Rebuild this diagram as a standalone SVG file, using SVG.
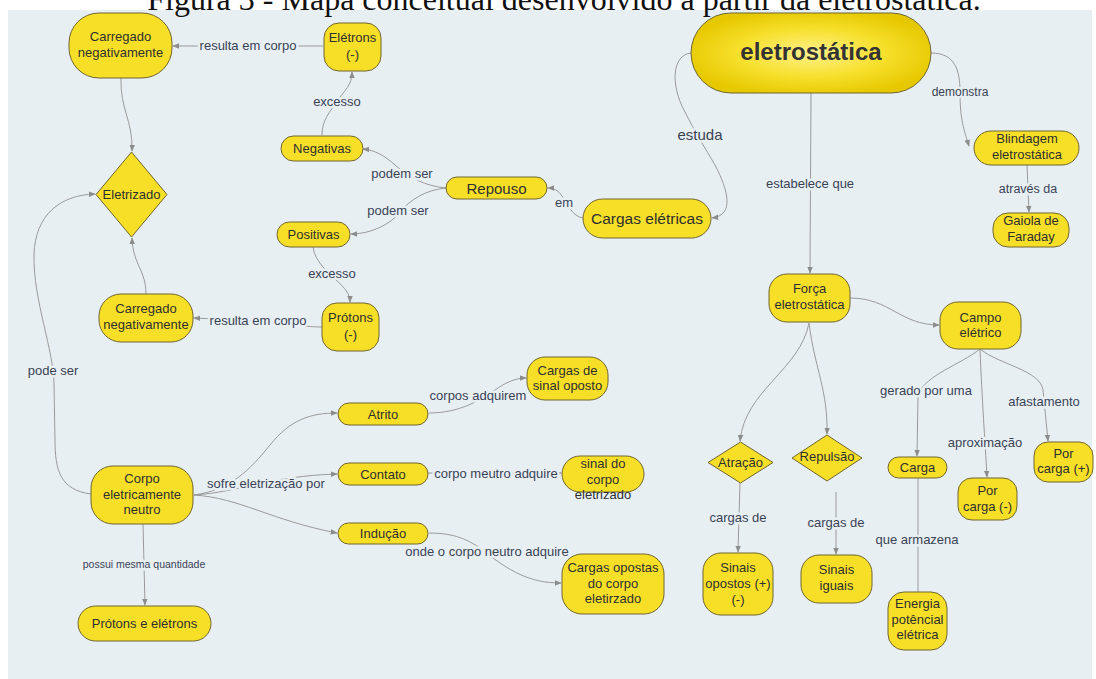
<svg xmlns="http://www.w3.org/2000/svg" width="1096" height="679" viewBox="0 0 1096 679">
<defs>
<style>
.node{fill:#f8df27;stroke:#6f6630;stroke-width:1}
.nt{font-family:"Liberation Sans",Arial,sans-serif;font-size:13px;fill:#2f2f2f;text-anchor:middle}
.edge{fill:none;stroke:#9a9a9a;stroke-width:1;marker-end:url(#arr)}
.plain{fill:none;stroke:#9a9a9a;stroke-width:1}
.lbl{font-family:"Liberation Sans",Arial,sans-serif;font-size:13px;fill:#3a4356;text-anchor:middle;paint-order:stroke;stroke:#e8eff3;stroke-width:5px;stroke-linejoin:round}
</style>
<marker id="arr" markerUnits="userSpaceOnUse" markerWidth="7" markerHeight="7" viewBox="0 0 10 10" refX="9" refY="5" orient="auto">
<path d="M0,1 L10,5 L0,9 z" fill="#8c8c8c"/>
</marker>
<radialGradient id="gold" cx="50%" cy="50%" r="55%">
<stop offset="0" stop-color="#fdf08c"/>
<stop offset="0.55" stop-color="#f7e02c"/>
<stop offset="1" stop-color="#e6c800"/>
</radialGradient>
</defs>
<rect x="0" y="0" width="1096" height="679" fill="#ffffff"/>
<rect x="8" y="10" width="1084" height="669" fill="#e8eff3"/>
<text x="564" y="10" font-family="'Liberation Serif','Times New Roman',serif" font-size="32" text-anchor="middle" fill="#111">Figura 3 - Mapa conceitual desenvolvido a partir da eletrostática.</text>

<g id="connectors">
<path class="edge" d="M323,46 L173,46"/>
<path class="edge" d="M322,135 C322,120 330,112 337,101 C345,90 352,85 352,72"/>
<path class="edge" d="M446,188 C425,186 410,178 395,165 C385,156 375,150 363,149"/>
<path class="edge" d="M446,188 C425,190 410,200 400,212 C390,225 370,234 351,234"/>
<path class="edge" d="M583,218 C572,216 568,205 562,196 C558,190 553,188 548,188"/>
<path class="edge" d="M691,53 C672,55 670,85 685,112 C695,132 705,148 715,165 C728,190 735,215 712,218"/>
<path class="edge" d="M313,247 C315,262 328,272 336,280 C345,288 350,294 350,302"/>
<path class="edge" d="M322,327 C300,327 290,322 260,321 L194,318"/>
<path class="edge" d="M121,78 C120,110 133,120 132,151"/>
<path class="edge" d="M146,294 C146,270 133,265 132,238"/>
<path class="edge" d="M91,494 C60,490 55,470 55,440 L54,385 C54,350 33,300 34,255 C35,215 60,195 95,194"/>
<path class="edge" d="M194,495 C230,490 250,470 270,445 C290,420 310,413 337,413"/>
<path class="edge" d="M194,495 C240,492 270,476 337,474"/>
<path class="edge" d="M194,495 C240,498 270,520 337,533"/>
<path class="edge" d="M429,413 C460,413 480,400 495,390 C505,383 515,378 526,378"/>
<path class="edge" d="M428,473 L561,473"/>
<path class="edge" d="M429,533 C455,533 468,540 480,548 C510,572 530,583 561,583"/>
<path class="edge" d="M143,524 L145,605"/>
<path class="edge" d="M931,53 C955,53 960,70 960,92 C960,120 964,130 969,146"/>
<path class="edge" d="M1027,165 L1029,212"/>
<path class="edge" d="M811,93 L810,273"/>
<path class="edge" d="M850,298 C890,298 900,325 939,325"/>
<path class="edge" d="M809,323 C800,370 745,390 740,441"/>
<path class="edge" d="M809,323 C815,370 828,390 827,434"/>
<path class="edge" d="M740,483 L738,552"/>
<path class="edge" d="M836,492 L836,554"/>
<path class="edge" d="M980,349 C960,365 925,375 918,395 L917,456"/>
<path class="edge" d="M980,349 C982,400 985,440 987,477"/>
<path class="edge" d="M980,349 C1000,365 1040,370 1043,390 L1048,441"/>
<path class="plain" d="M918,478 L918,592"/>

<text class="lbl" x="248" y="49.5">resulta em corpo</text>
<text class="lbl" x="337" y="105.5">excesso</text>
<text class="lbl" x="402" y="177.5">podem ser</text>
<text class="lbl" x="398" y="214.5">podem ser</text>
<text class="lbl" x="564" y="206.5">em</text>
<text class="lbl" x="700" y="140" style="font-size:15px">estuda</text>
<text class="lbl" x="332" y="278">excesso</text>
<text class="lbl" x="258" y="325">resulta em corpo</text>
<text class="lbl" x="53" y="375">pode ser</text>
<text class="lbl" x="266" y="487.5">sofre eletrização por</text>
<text class="lbl" x="478" y="399.5">corpos adquirem</text>
<text class="lbl" x="496" y="477.5">corpo meutro adquire</text>
<text class="lbl" x="487" y="555.5">onde o corpo neutro adquire</text>
<text class="lbl" x="144" y="567.5" style="font-size:10.5px">possui mesma quantidade</text>
<text class="lbl" x="960" y="96" style="font-size:12px">demonstra</text>
<text class="lbl" x="1028" y="192.5" style="font-size:12.5px">através da</text>
<text class="lbl" x="810" y="187.5">estabelece que</text>
<text class="lbl" x="926" y="394.5">gerado por uma</text>
<text class="lbl" x="985" y="447">aproximação</text>
<text class="lbl" x="1044" y="405.5">afastamento</text>
<text class="lbl" x="738" y="521.5">cargas de</text>
<text class="lbl" x="836" y="526.5">cargas de</text>
<text class="lbl" x="917" y="543.5">que armazena</text>
</g>

<g id="n_carregado1"><rect class="node" x="69" y="13" width="103" height="65" rx="30"/><text class="nt" x="120.5" y="41">Carregado</text><text class="nt" x="120.5" y="57">negativamente</text></g>
<g id="n_eletrons"><rect class="node" x="324" y="23" width="57" height="48" rx="15"/><text class="nt" x="352.5" y="42">Elétrons</text><text class="nt" x="352.5" y="59">(-)</text></g>
<g id="n_negativas"><rect class="node" x="281" y="136" width="82" height="25" rx="12.5"/><text class="nt" x="322" y="153">Negativas</text></g>
<g id="n_eletrizado"><polygon class="node" points="131.5,152 167,194.5 131.5,237 96,194.5"/><text class="nt" x="131.5" y="199">Eletrizado</text></g>
<g id="n_positivas"><rect class="node" x="277" y="222" width="73" height="25" rx="12.5"/><text class="nt" x="313.5" y="239">Positivas</text></g>
<g id="n_repouso"><rect class="node" x="446" y="177" width="101" height="22" rx="11"/><text class="nt" x="496.5" y="193.5" style="font-size:15px">Repouso</text></g>
<g id="n_cargas"><rect class="node" x="583" y="199" width="128" height="39" rx="19.5"/><text class="nt" x="647" y="223.5" style="font-size:15.5px">Cargas elétricas</text></g>
<g id="n_protons"><rect class="node" x="322" y="303" width="57" height="48" rx="15"/><text class="nt" x="350.5" y="322">Prótons</text><text class="nt" x="350.5" y="339">(-)</text></g>
<g id="n_carregado2"><rect class="node" x="99" y="294" width="94" height="48" rx="22"/><text class="nt" x="146" y="313">Carregado</text><text class="nt" x="146" y="329">negativamente</text></g>
<g id="n_eletrostatica"><rect x="691" y="13" width="240" height="80" rx="40" fill="url(#gold)" stroke="#6f6630" stroke-width="1"/><text x="811" y="60" font-family="'Liberation Sans',Arial,sans-serif" font-size="24" font-weight="bold" text-anchor="middle" fill="#333">eletrostática</text></g>
<g id="n_blindagem"><rect class="node" x="974" y="131" width="105" height="34" rx="17"/><text class="nt" x="1027" y="143">Blindagem</text><text class="nt" x="1027" y="158.5">eletrostática</text></g>
<g id="n_gaiola"><rect class="node" x="993" y="213" width="76" height="34" rx="15"/><text class="nt" x="1031" y="225">Gaiola de</text><text class="nt" x="1031" y="241">Faraday</text></g>
<g id="n_forca"><rect class="node" x="769" y="274" width="81" height="48" rx="18"/><text class="nt" x="809.5" y="292.5">Força</text><text class="nt" x="809.5" y="308.5">eletrostática</text></g>
<g id="n_campo"><rect class="node" x="940" y="302" width="81" height="47" rx="18"/><text class="nt" x="980.5" y="321.5">Campo</text><text class="nt" x="980.5" y="336.5">elétrico</text></g>
<g id="n_atracao"><polygon class="node" points="740.5,442 773,462.5 740.5,483 708,462.5"/><text class="nt" x="740.5" y="467">Atração</text></g>
<g id="n_repulsao"><polygon class="node" points="827,435 862,458 827,481 792,458"/><text class="nt" x="827" y="461">Repulsão</text></g>
<g id="n_carga"><rect class="node" x="888" y="457" width="59" height="21" rx="10.5"/><text class="nt" x="917.5" y="472">Carga</text></g>
<g id="n_porneg"><rect class="node" x="958" y="478" width="59" height="42" rx="14"/><text class="nt" x="987.5" y="494.5">Por</text><text class="nt" x="987.5" y="510.5">carga (-)</text></g>
<g id="n_porpos"><rect class="node" x="1034" y="442" width="59" height="40" rx="14"/><text class="nt" x="1063.5" y="457.5">Por</text><text class="nt" x="1063.5" y="473">carga (+)</text></g>
<g id="n_sinaisopostos"><rect class="node" x="703" y="553" width="70" height="62" rx="18"/><text class="nt" x="738" y="571.5">Sinais</text><text class="nt" x="738" y="587.5">opostos (+)</text><text class="nt" x="738" y="603.5">(-)</text></g>
<g id="n_sinaisiguais"><rect class="node" x="801" y="555" width="71" height="48" rx="18"/><text class="nt" x="836.5" y="573.5">Sinais</text><text class="nt" x="836.5" y="589.5">iguais</text></g>
<g id="n_energia"><rect class="node" x="888" y="592" width="59" height="58" rx="16"/><text class="nt" x="917.5" y="607.5">Energia</text><text class="nt" x="917.5" y="623.5">potêncial</text><text class="nt" x="917.5" y="638.5">elétrica</text></g>
<g id="n_corpo"><rect class="node" x="91" y="466" width="102" height="58" rx="22"/><text class="nt" x="142" y="482.5">Corpo</text><text class="nt" x="142" y="498.5">eletricamente</text><text class="nt" x="142" y="513.5">neutro</text></g>
<g id="n_protonseletrons"><rect class="node" x="78" y="606" width="133" height="35" rx="17.5"/><text class="nt" x="144.5" y="628">Prótons e elétrons</text></g>
<g id="n_atrito"><rect class="node" x="338" y="403" width="90" height="22" rx="11"/><text class="nt" x="383" y="418.5">Atrito</text></g>
<g id="n_contato"><rect class="node" x="338" y="463" width="90" height="22" rx="11"/><text class="nt" x="383" y="478.5">Contato</text></g>
<g id="n_inducao"><rect class="node" x="338" y="523" width="90" height="21" rx="10.5"/><text class="nt" x="383" y="538">Indução</text></g>
<g id="n_sinaloposto"><rect class="node" x="527" y="357" width="81" height="43" rx="18"/><text class="nt" x="567.5" y="374.5">Cargas de</text><text class="nt" x="567.5" y="389.5">sinal oposto</text></g>
<g id="n_sinalcorpo"><rect class="node" x="562" y="456" width="82" height="36" rx="18"/><text class="nt" x="603" y="467.5">sinal do</text><text class="nt" x="603" y="483.5">corpo</text><text class="nt" x="603" y="498.5">eletrizado</text></g>
<g id="n_cargasopostas"><rect class="node" x="562" y="554" width="102" height="60" rx="20"/><text class="nt" x="613" y="571.5">Cargas opostas</text><text class="nt" x="613" y="587.5">do corpo</text><text class="nt" x="613" y="602.5">eletirzado</text></g>
</svg>
